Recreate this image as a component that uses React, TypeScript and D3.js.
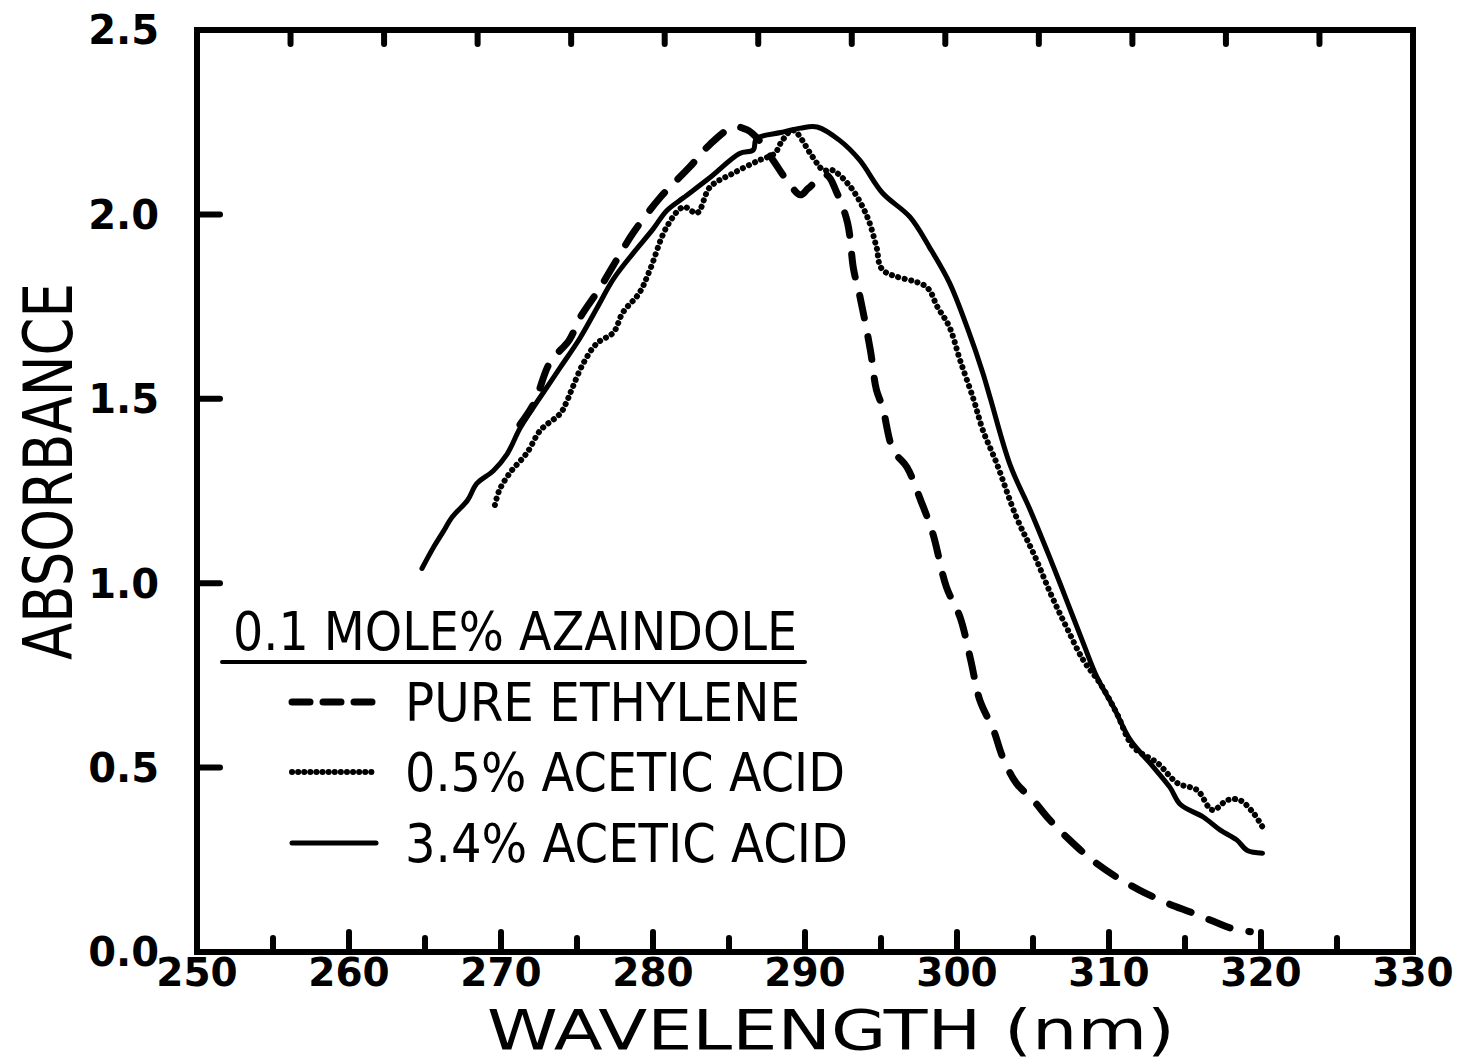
import React from "react";
import * as d3 from "d3";

// wavelength (nm) / absorbance pairs
const pureEthylene: [number, number][] = [
  [271.25, 1.43], [272.2, 1.49], [273.2, 1.597], [274.5, 1.66], [275.2, 1.72],
  [276.5, 1.8], [277.6, 1.876], [278.7, 1.95], [280.5, 2.047], [282.4, 2.128],
  [283.75, 2.19], [285.3, 2.237], [286.2, 2.229], [287.0, 2.2], [287.9, 2.147],
  [288.8, 2.093], [289.7, 2.053], [290.2, 2.07], [291.4, 2.107], [292.1, 2.058],
  [292.8, 1.977], [293.2, 1.85], [293.6, 1.78], [294.3, 1.632], [294.7, 1.524],
  [295.1, 1.478], [295.8, 1.361], [296.7, 1.315], [297.6, 1.226], [298.4, 1.136],
  [299.3, 0.99], [300.2, 0.908], [300.9, 0.792], [301.5, 0.683], [302.4, 0.602],
  [303.0, 0.529], [303.9, 0.458], [305.0, 0.412], [306.1, 0.358], [307.4, 0.304],
  [308.9, 0.249], [310.5, 0.203], [312.0, 0.168], [313.8, 0.133], [315.5, 0.106],
  [317.1, 0.079], [318.0, 0.065], [319.3, 0.055],
];

const aceticAcid05: [number, number][] = [
  [269.6, 1.212], [269.9, 1.253], [270.6, 1.3], [271.7, 1.353], [272.6, 1.415],
  [273.9, 1.46], [274.3, 1.49], [274.7, 1.53], [275.4, 1.595], [276.3, 1.65],
  [277.4, 1.68], [278.0, 1.733], [279.1, 1.787], [279.8, 1.85], [280.9, 1.966],
  [282.0, 2.02], [282.9, 2.004], [283.75, 2.074], [285.3, 2.112], [287.0, 2.147],
  [288.0, 2.165], [288.5, 2.2], [289.2, 2.228], [290.5, 2.156], [291.2, 2.12],
  [291.8, 2.12], [293.0, 2.074], [294.1, 1.993], [294.7, 1.912], [295.1, 1.85],
  [298.0, 1.803], [298.7, 1.75], [299.5, 1.695], [300.2, 1.605], [301.1, 1.497],
  [301.7, 1.415], [302.6, 1.326], [303.9, 1.18], [305.1, 1.075], [306.2, 0.968],
  [307.2, 0.881], [308.3, 0.792], [309.4, 0.729], [310.5, 0.648], [311.6, 0.556],
  [313.2, 0.512], [314.5, 0.458], [315.8, 0.439], [316.8, 0.385], [317.8, 0.412],
  [318.6, 0.412], [319.5, 0.377], [320.1, 0.339],
];

const aceticAcid34: [number, number][] = [
  [264.8, 1.04], [265.6, 1.1], [266.2, 1.14], [266.8, 1.18], [267.8, 1.225],
  [268.4, 1.27], [269.5, 1.305], [270.4, 1.35], [271.25, 1.42], [272.1, 1.475],
  [273.0, 1.53], [273.9, 1.585], [275.2, 1.665], [276.3, 1.745], [277.4, 1.825],
  [278.7, 1.895], [280.0, 1.96], [280.9, 2.01], [282.0, 2.045], [283.75, 2.1],
  [285.7, 2.165], [286.6, 2.175], [286.8, 2.205], [288.4, 2.222], [289.7, 2.234],
  [290.8, 2.237], [292.3, 2.2], [293.6, 2.147], [295.1, 2.058], [296.9, 1.993],
  [298.2, 1.91], [299.5, 1.815], [300.7, 1.69], [301.7, 1.57], [302.2, 1.5],
  [303.5, 1.32], [304.8, 1.2], [306.1, 1.07], [307.2, 0.955], [308.3, 0.838],
  [309.2, 0.746], [310.3, 0.664], [311.4, 0.575], [312.7, 0.512], [314.0, 0.447],
  [314.7, 0.4], [316.2, 0.366], [317.3, 0.331], [318.4, 0.304], [319.1, 0.275],
  [320.1, 0.268],
];

const xTickLabels = [250, 260, 270, 280, 290, 300, 310, 320, 330];
const yTickLabels = [0, 0.5, 1.0, 1.5, 2.0, 2.5];
const topDivisions = 13; // unlabelled ticks along the top edge

const legendTitle = "0.1 MOLE% AZAINDOLE";
const legendLabels = ["PURE ETHYLENE", "0.5% ACETIC ACID", "3.4% ACETIC ACID"];

const lineStyles = {
  dashed: { width: 7, dash: "23 19" },
  dotted: { width: 6, dash: "0.1 6.5" },
  solid: { width: 5, dash: null },
};

const series = [
  { name: legendLabels[0], data: pureEthylene, style: lineStyles.dashed },
  { name: legendLabels[1], data: aceticAcid05, style: lineStyles.dotted },
  { name: legendLabels[2], data: aceticAcid34, style: lineStyles.solid },
];

const dimensions = {
  svgWidth: 1464,
  svgHeight: 1063,
  margin: { left: 197, top: 30 },
  width: 1216,
  height: 922,
};

const labelFont = "'DejaVu Sans', Verdana, sans-serif";
const letterFont = "'DejaVu Sans', 'Liberation Sans', sans-serif";

const AbsorbanceChart = () => {
  const svgRef = React.useRef<SVGSVGElement | null>(null);
  const { svgWidth, svgHeight, margin, width, height } = dimensions;

  React.useEffect(() => {
    const xScale = d3.scaleLinear().domain([250, 330]).range([0, width]);
    const yScale = d3.scaleLinear().domain([0, 2.5]).range([height, 0]);
    const topScale = d3.scaleLinear().domain([0, topDivisions]).range([0, width]);

    const svgEl = d3.select(svgRef.current);
    svgEl.selectAll("*").remove();
    const svg = svgEl
      .append("g")
      .attr("transform", `translate(${margin.left},${margin.top})`);

    // frame
    svg
      .append("rect")
      .attr("width", width)
      .attr("height", height)
      .attr("fill", "none")
      .attr("stroke", "black")
      .attr("stroke-width", 6);

    // bottom ticks every 5 nm, longer at labelled ones
    const bottomTicks = xScale.ticks(16).filter((t) => t > 250 && t < 330);
    svg
      .selectAll(".xtick")
      .data(bottomTicks)
      .enter()
      .append("line")
      .attr("x1", (d) => xScale(d))
      .attr("x2", (d) => xScale(d))
      .attr("y1", height)
      .attr("y2", (d) => height - (d % 10 === 0 ? 20 : 14))
      .attr("stroke", "black")
      .attr("stroke-width", 6)
      .attr("stroke-linecap", "round");

    // top ticks
    svg
      .selectAll(".ttick")
      .data(d3.range(1, topDivisions))
      .enter()
      .append("line")
      .attr("x1", (d) => topScale(d))
      .attr("x2", (d) => topScale(d))
      .attr("y1", 0)
      .attr("y2", 14)
      .attr("stroke", "black")
      .attr("stroke-width", 6)
      .attr("stroke-linecap", "round");

    // left ticks
    svg
      .selectAll(".ytick")
      .data(yTickLabels.filter((t) => t > 0 && t < 2.5))
      .enter()
      .append("line")
      .attr("x1", 0)
      .attr("x2", 23)
      .attr("y1", (d) => yScale(d))
      .attr("y2", (d) => yScale(d))
      .attr("stroke", "black")
      .attr("stroke-width", 6)
      .attr("stroke-linecap", "round");

    // tick labels
    svg
      .selectAll(".xlabel")
      .data(xTickLabels)
      .enter()
      .append("text")
      .attr("x", (d) => xScale(d))
      .attr("y", height + 34)
      .attr("text-anchor", "middle")
      .attr("font-family", labelFont)
      .attr("font-weight", "bold")
      .attr("font-size", 39)
      .text((d) => d3.format("d")(d));

    svg
      .selectAll(".ylabel")
      .data(yTickLabels)
      .enter()
      .append("text")
      .attr("x", -38)
      .attr("y", (d) => yScale(d))
      .attr("dy", "0.36em")
      .attr("text-anchor", "end")
      .attr("font-family", labelFont)
      .attr("font-weight", "bold")
      .attr("font-size", 40)
      .text((d) => d3.format(".1f")(d));

    // axis titles
    svgEl
      .append("text")
      .attr("x", 487)
      .attr("y", 1049)
      .attr("font-family", letterFont)
      .attr("font-size", 56)
      .attr("textLength", 688)
      .attr("lengthAdjust", "spacingAndGlyphs")
      .text("WAVELENGTH  (nm)");

    svgEl
      .append("text")
      .attr("transform", "translate(72,660) rotate(-90)")
      .attr("font-family", letterFont)
      .attr("font-size", 67)
      .attr("textLength", 377)
      .attr("lengthAdjust", "spacingAndGlyphs")
      .text("ABSORBANCE");

    // curves
    const line = d3
      .line<[number, number]>()
      .x((d) => xScale(d[0]))
      .y((d) => yScale(d[1]))
      .curve(d3.curveCatmullRom.alpha(0.5));

    svg
      .selectAll(".curve")
      .data(series)
      .enter()
      .append("path")
      .attr("fill", "none")
      .attr("stroke", "black")
      .attr("stroke-width", (d) => d.style.width)
      .attr("stroke-dasharray", (d) => d.style.dash)
      .attr("stroke-linecap", "round")
      .attr("stroke-linejoin", "round")
      .attr("d", (d) => line(d.data));

    // legend
    const legend = svgEl.append("g");
    legend
      .append("text")
      .attr("x", 233)
      .attr("y", 650)
      .attr("font-family", letterFont)
      .attr("font-size", 54)
      .attr("textLength", 564)
      .attr("lengthAdjust", "spacingAndGlyphs")
      .text(legendTitle);
    legend
      .append("line")
      .attr("x1", 222)
      .attr("x2", 805)
      .attr("y1", 662)
      .attr("y2", 662)
      .attr("stroke", "black")
      .attr("stroke-width", 4)
      .attr("stroke-linecap", "round");

    const rowY = [702, 772, 843];
    const textWidths = [395, 440, 443];
    const legendDash = ["18 13", "0.1 6", null];
    series.forEach((s, i) => {
      legend
        .append("line")
        .attr("x1", 292)
        .attr("x2", 376)
        .attr("y1", rowY[i])
        .attr("y2", rowY[i])
        .attr("stroke", "black")
        .attr("stroke-width", s.style.width)
        .attr("stroke-dasharray", legendDash[i])
        .attr("stroke-linecap", "round");
      legend
        .append("text")
        .attr("x", 405)
        .attr("y", rowY[i] + 19)
        .attr("font-family", letterFont)
        .attr("font-size", 54)
        .attr("textLength", textWidths[i])
        .attr("lengthAdjust", "spacingAndGlyphs")
        .text(s.name);
    });
  }, []);

  return (
    <svg
      ref={svgRef}
      width={svgWidth}
      height={svgHeight}
      style={{ position: "absolute", left: 0, top: 0, background: "white", display: "block" }}
    />
  );
};

export default function App() {
  return <AbsorbanceChart />;
}
